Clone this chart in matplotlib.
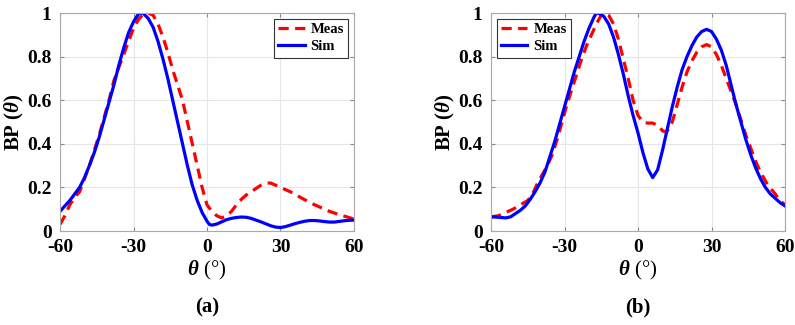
import matplotlib.pyplot as plt
import numpy as np

plt.rcParams['font.family'] = 'Liberation Serif'
plt.rcParams['mathtext.fontset'] = 'custom'
plt.rcParams['mathtext.it'] = 'Liberation Serif:italic:bold'
plt.rcParams['mathtext.rm'] = 'Liberation Serif:bold'
plt.rcParams['axes.unicode_minus'] = False

# (a) readings
theta_sim_a = [-60, -58, -56, -54, -52, -50, -48, -46, -44, -42, -40, -38, -36, -34, -32, -30, -28, -27,
               -26, -24, -22, -20, -18, -16, -14, -12, -10, -8, -6, -4, -2, 0, 1, 2, 4, 6, 8, 10, 12,
               14, 16, 18, 20, 22, 24, 26, 28, 30, 32, 34, 36, 38, 40, 42, 44, 46, 48, 50, 52, 54,
               56, 58, 60]
sim_a = [0.09, 0.115, 0.14, 0.17, 0.2, 0.245, 0.3, 0.36, 0.43, 0.51, 0.59, 0.67, 0.76, 0.84, 0.91, 0.96,
         0.995, 1.0, 0.998, 0.975, 0.935, 0.87, 0.79, 0.7, 0.6, 0.5, 0.4, 0.3, 0.21, 0.14, 0.085, 0.045,
         0.03, 0.027, 0.032, 0.042, 0.052, 0.058, 0.062, 0.064, 0.063, 0.058, 0.05, 0.042, 0.033, 0.024,
         0.018, 0.016, 0.02, 0.027, 0.034, 0.04, 0.045, 0.048, 0.048, 0.046, 0.043, 0.041, 0.041, 0.044,
         0.047, 0.049, 0.05]
theta_meas_a = [-60, -58, -56, -54, -52, -50, -48, -46, -44, -42, -40, -38, -36, -34, -32, -30, -28,
                -26, -24, -22, -20, -18, -16, -14, -12, -10, -8, -6, -4, -2, 0, 2, 4, 6, 8, 10, 12,
                14, 16, 18, 20, 22, 24, 26, 28, 30, 34, 38, 42, 46, 50, 54, 57, 60]
meas_a = [0.03, 0.07, 0.12, 0.155, 0.18, 0.24, 0.3, 0.37, 0.44, 0.52, 0.6, 0.69, 0.75, 0.81, 0.87, 0.93,
          0.97, 0.995, 1.0, 0.99, 0.95, 0.89, 0.82, 0.74, 0.67, 0.6, 0.5, 0.4, 0.3, 0.2, 0.12, 0.09,
          0.07, 0.06, 0.07, 0.09, 0.12, 0.145, 0.165, 0.18, 0.195, 0.21, 0.22, 0.22, 0.21, 0.2, 0.18,
          0.155, 0.13, 0.11, 0.09, 0.075, 0.065, 0.055]

# (b) readings
theta_sim_b = [-60, -57, -54, -52, -50, -48, -46, -44, -42, -40, -38, -36, -34, -32, -30, -28, -26, -24,
               -22, -20, -18, -17, -16, -14, -12, -10, -8, -6, -4, -2, 0, 2, 4, 6, 8, 10, 12, 14, 16,
               18, 20, 22, 24, 26, 28, 30, 32, 34, 36, 38, 40, 42, 44, 46, 48, 50, 52, 54, 56, 58, 60]
sim_b = [0.065, 0.063, 0.06, 0.065, 0.08, 0.095, 0.115, 0.145, 0.18, 0.22, 0.27, 0.34, 0.41, 0.49, 0.57,
         0.65, 0.73, 0.8, 0.87, 0.93, 0.98, 1.0, 0.998, 0.985, 0.95, 0.89, 0.81, 0.72, 0.62, 0.53, 0.45,
         0.36, 0.285, 0.245, 0.28, 0.37, 0.47, 0.57, 0.66, 0.74, 0.8, 0.85, 0.89, 0.915, 0.925, 0.915,
         0.88, 0.83, 0.76, 0.67, 0.58, 0.5, 0.42, 0.35, 0.29, 0.24, 0.2, 0.17, 0.15, 0.13, 0.115]
theta_meas_b = [-60, -57, -54, -51, -48, -45, -43, -41, -39, -37, -35, -33, -31, -29, -27, -25, -23,
                -21, -19, -17, -15, -14, -12, -10, -8, -6, -4, -2, 0, 2, 4, 6, 8, 10, 11, 12, 14, 16,
                18, 20, 22, 24, 26, 28, 30, 32, 34, 36, 38, 40, 42, 44, 46, 48, 50, 53, 56, 58, 60]
meas_b = [0.065, 0.07, 0.085, 0.1, 0.12, 0.14, 0.17, 0.22, 0.26, 0.3, 0.35, 0.42, 0.5, 0.58, 0.65, 0.72,
          0.79, 0.85, 0.9, 0.95, 0.99, 1.0, 0.99, 0.95, 0.88, 0.79, 0.7, 0.6, 0.53, 0.5, 0.495, 0.495,
          0.485, 0.46, 0.455, 0.46, 0.5, 0.58, 0.66, 0.73, 0.78, 0.82, 0.845, 0.855, 0.845, 0.81, 0.76,
          0.7, 0.64, 0.58, 0.51, 0.44, 0.38, 0.32, 0.27, 0.21, 0.17, 0.14, 0.12]

panels = [
    ("(a)", theta_meas_a, meas_a, theta_sim_a, sim_a, "upper right", 60 / 795),
    ("(b)", theta_meas_b, meas_b, theta_sim_b, sim_b, "upper left", 491 / 795),
]

fig = plt.figure(figsize=(7.95, 3.25), dpi=100)
for tag, tm, m, ts, s, loc, left in panels:
    ax = fig.add_axes([left, 94 / 325, 294 / 795, 218 / 325])
    ax.plot(tm, m, color='red', linestyle=(0, (3.2, 2)), linewidth=2.3, label='Meas')
    ax.plot(ts, s, color='blue', linewidth=2.3, label='Sim')
    ax.set_xlim(-60, 60)
    ax.set_ylim(0, 1)
    ax.set_xticks([-60, -30, 0, 30, 60])
    ax.set_yticks([0, 0.2, 0.4, 0.6, 0.8, 1])
    ax.set_yticklabels(['0', '0.2', '0.4', '0.6', '0.8', '1'])
    ax.grid(True, color='#e6e6e6', linewidth=0.8)
    ax.tick_params(direction='in', top=True, right=True, labelsize=14, color='#888888', length=3,
                   pad=6)
    for lab in ax.get_xticklabels() + ax.get_yticklabels():
        lab.set_fontweight('bold')
    for sp in ax.spines.values():
        sp.set_color('#aaaaaa')
    ax.set_ylabel(r'BP ($\theta$)', fontsize=15, fontweight='bold', labelpad=1)
    ax.set_xlabel(r'$\theta$ (°)', fontsize=15, labelpad=2)
    leg = ax.legend(loc=loc, prop={'weight': 'bold', 'size': 10.5},
                    handlelength=1.8, borderpad=0.3, labelspacing=0.25, fancybox=False,
                    framealpha=1, edgecolor='#333333', handletextpad=0.4, borderaxespad=0.4)
    leg.get_frame().set_linewidth(0.8)
    fig.text(left + 147 / 795, 18 / 325, tag, ha='center', va='center', fontsize=15, fontweight='bold')

fig.savefig('out.png', dpi=100)
